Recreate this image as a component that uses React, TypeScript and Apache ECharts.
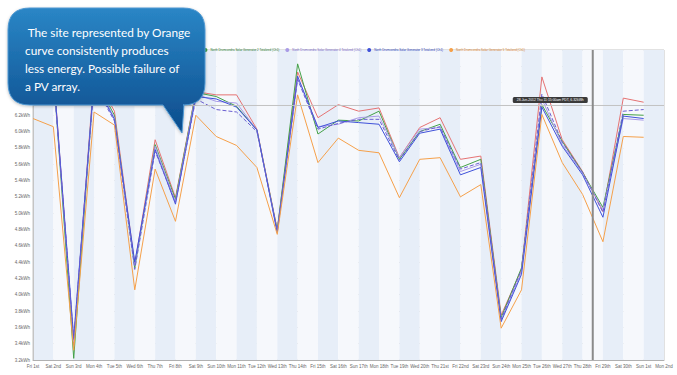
import React, { useEffect, useRef } from 'react';
import * as echarts from 'echarts';

const DAYS = ['Fri 1st', 'Sat 2nd', 'Sun 3rd', 'Mon 4th', 'Tue 5th', 'Wed 6th', 'Thu 7th', 'Fri 8th', 'Sat 9th', 'Sun 10th', 'Mon 11th', 'Tue 12th', 'Wed 13th', 'Thu 14th', 'Fri 15th', 'Sat 16th', 'Sun 17th', 'Mon 18th', 'Tue 19th', 'Wed 20th', 'Thu 21st', 'Fri 22nd', 'Sat 23rd', 'Sun 24th', 'Mon 25th', 'Tue 26th', 'Wed 27th', 'Thu 28th', 'Fri 29th', 'Sat 30th', 'Sun 1st', 'Mon 2nd'];

const GEN1 = [6.74, 6.77, 3.38, 6.70, 6.25, 4.37, 5.90, 5.19, 6.49, 6.45, 6.45, 6.03, 4.80, 6.73, 6.17, 6.33, 6.25, 6.29, 5.68, 6.05, 6.17, 5.66, 5.70, 3.75, 4.31, 6.67, 5.90, 5.51, 5.02, 6.41, 6.36];
const GEN2 = [6.72, 6.74, 3.22, 6.67, 6.20, 4.33, 5.84, 5.17, 6.48, 6.43, 6.31, 6.02, 4.79, 6.83, 5.97, 6.14, 6.13, 6.25, 5.66, 6.00, 6.09, 5.56, 5.66, 3.72, 4.33, 6.33, 5.88, 5.50, 5.07, 6.21, 6.20];
const GEN4 = [6.69, 6.72, 3.42, 6.64, 6.17, 4.36, 5.82, 5.14, 6.46, 6.37, 6.35, 6.02, 4.77, 6.65, 6.06, 6.09, 6.17, 6.19, 5.68, 6.03, 6.05, 5.51, 5.60, 3.69, 4.28, 6.40, 5.84, 5.49, 5.04, 6.16, 6.14];
const GEN3 = [6.67, 6.74, 3.47, 6.62, 6.15, 4.40, 5.78, 5.11, 6.43, 6.40, 6.30, 6.02, 4.76, 6.68, 6.05, 6.13, 6.11, 6.09, 5.63, 5.98, 6.03, 5.47, 5.56, 3.67, 4.25, 6.30, 5.82, 5.47, 4.95, 6.19, 6.16];
const GEN6 = [6.64, 6.69, 3.45, 6.58, 6.13, 4.31, 5.76, 5.13, 6.40, 6.27, 6.24, 6.00, 4.79, 6.64, 6.03, 6.10, 6.15, 6.15, 5.65, 6.00, 6.06, 5.54, 5.62, 3.70, 4.31, 6.46, 5.87, 5.50, 5.01, 6.25, 6.27];
const GEN5 = [6.16, 6.06, 3.32, 6.24, 6.08, 4.06, 5.54, 4.90, 6.20, 5.94, 5.83, 5.56, 4.74, 6.45, 5.62, 5.92, 5.77, 5.74, 5.19, 5.66, 5.68, 5.20, 5.35, 3.59, 4.06, 6.21, 5.62, 5.23, 4.65, 5.94, 5.93];

const SERIES_NAMES = [
  'North Drumcondra Solar Generator 1 Totalized (Ch1)',
  'North Drumcondra Solar Generator 2 Totalized (Ch1)',
  'North Drumcondra Solar Generator 4 Totalized (Ch1)',
  'North Drumcondra Solar Generator 3 Totalized (Ch1)',
  'North Drumcondra Solar Generator 5 Totalized (Ch1)',
  'North Drumcondra Solar Generator 6 Totalized (Ch1)',
];

const Y_MIN = 3.2;
const Y_MAX = 7.0;
const Y_STEP = 0.2;
const Y_LABEL_MAX = 6.2;

const CURSOR_DAYS = ['Thu 28th', 'Fri 29th'];
const CURSOR_VALUE = 6.32;
const CURSOR_TEXT = '28-Jun-2012 Thu 11:15:00am PDT, 6.32kWh';

const NOTE_LINES = [' The site represented by Orange', 'curve consistently produces', 'less energy. Possible failure of', 'a PV array.'];

const BUBBLE_D = 'M30 8 H183 Q205 8 205 30 V83 Q205 105 183 105 L184 105 L182 133 L163 105 H30 Q8 105 8 83 V30 Q8 8 30 8 Z';

export default function App() {
  const ref = useRef<HTMLDivElement>(null);
  useEffect(() => {
    const el = ref.current!;
    const chart = echarts.init(el, null, { renderer: 'svg' });
    try {
      echarts.graphic.registerShape('bubble', echarts.graphic.extendPath(BUBBLE_D, {}) as any);
    } catch (e) {}

    const colors = ['#e57373', '#43a047', '#a99be6', '#3f51d9', '#f5a04a', '#6a5fd0'];
    const datas = [GEN1, GEN2, GEN4, GEN3, GEN5, GEN6];
    const textColors = ['#c0392b', '#2e7d32', '#7b68c8', '#2c3eb8', '#d9822b'];

    chart.setOption({
      animation: false,
      backgroundColor: '#ffffff',
      grid: { left: 33, right: 13, top: 50, bottom: 15, show: true, borderColor: '#c4c4c4', borderWidth: 1, backgroundColor: 'transparent' },
      legend: {
        top: 43,
        right: 147,
        icon: 'circle',
        itemWidth: 4,
        itemHeight: 4,
        itemGap: 6,
        textStyle: { fontSize: 2.95, fontFamily: 'Liberation Sans', padding: [0, 0, 0, -2] },
        data: SERIES_NAMES.slice(0, 5).map((n, i) => ({ name: n, textStyle: { color: textColors[i] } })),
      },
      xAxis: {
        type: 'category',
        data: DAYS,
        boundaryGap: false,
        axisLine: { show: true, lineStyle: { color: '#b0b0b0' } },
        axisTick: { show: false },
        axisLabel: { interval: 0, fontSize: 4.5, color: '#666', margin: 4, fontFamily: 'Liberation Sans' },
        splitLine: { show: false },
        splitArea: { show: true, areaStyle: { color: ['#e7eef8', '#f6f8fc'] } },
      },
      yAxis: {
        type: 'value',
        min: Y_MIN,
        max: Y_MAX,
        interval: Y_STEP,
        axisLine: { show: true, lineStyle: { color: '#c4c4c4' } },
        axisTick: { show: false },
        axisLabel: {
          fontSize: 4.5, color: '#666', margin: 3, fontFamily: 'Liberation Sans',
          formatter: (v: number) => (v > Y_LABEL_MAX + 0.01 ? '' : v.toFixed(1) + 'kWh'),
        },
        splitLine: { show: true, lineStyle: { color: '#cfcfcf', type: 'dashed', width: 1 } },
      },
      series: datas.map((d, i) => ({
        name: SERIES_NAMES[i],
        type: 'line',
        data: d,
        showSymbol: false,
        symbol: 'circle',
        color: colors[i],
        lineStyle: { width: 1, color: colors[i], type: i === 5 ? 'dashed' : 'solid' },
        z: i === 4 ? 3 : 2,
      })),
    });

    const p1 = chart.convertToPixel({ gridIndex: 0 }, [CURSOR_DAYS[0], CURSOR_VALUE]) as number[];
    const p2 = chart.convertToPixel({ gridIndex: 0 }, [CURSOR_DAYS[1], CURSOR_VALUE]) as number[];
    const top = chart.convertToPixel({ yAxisIndex: 0 }, Y_MAX) as number;
    const bot = chart.convertToPixel({ yAxisIndex: 0 }, Y_MIN) as number;
    const left = chart.convertToPixel({ xAxisIndex: 0 }, DAYS[0]) as number;
    const right = chart.convertToPixel({ xAxisIndex: 0 }, DAYS[DAYS.length - 1]) as number;
    const cx = (p1[0] + p2[0]) / 2;
    const cy = p1[1];

    chart.setOption({
      graphic: [
        { type: 'line', id: 'hline', z: 50, shape: { x1: left, y1: cy, x2: right, y2: cy }, style: { stroke: '#c2c2c2', lineWidth: 1 } },
        { type: 'line', id: 'vline', z: 50, shape: { x1: cx, y1: top, x2: cx, y2: bot }, style: { stroke: '#8a8a8a', lineWidth: 2 } },
        { type: 'rect', id: 'tipbox', z: 51, shape: { x: cx - 80, y: cy - 8.5, width: 75, height: 6, r: 1.5 }, style: { fill: '#3a3a3a' } },
        { type: 'text', id: 'tiptext', z: 52, x: cx - 42.5, y: cy - 5.5, style: { text: CURSOR_TEXT, fill: '#ffffff', fontSize: 3.4, fontFamily: 'Liberation Sans', align: 'center', verticalAlign: 'middle' } },
        {
          type: 'bubble', id: 'bubble', z: 100, x: 0, y: 0,
          style: {
            fill: new echarts.graphic.LinearGradient(0, 0, 0, 1, [
              { offset: 0, color: '#2a86c6' },
              { offset: 1, color: '#0c4c8c' },
            ]),
            stroke: '#4f98d2', lineWidth: 1,
            shadowBlur: 3, shadowColor: 'rgba(0,0,0,0.25)', shadowOffsetY: 1,
          },
        },
        ...NOTE_LINES.map((t, i) => ({
          type: 'text', id: 'note' + i, z: 101, x: 25, y: 32 + i * 18.3,
          style: { text: t, fill: '#ffffff', fontSize: 11.8, fontFamily: 'Lato', verticalAlign: 'middle' },
        })),
      ],
    });

    return () => chart.dispose();
  }, []);
  return <div ref={ref} style={{ position: 'fixed', left: 0, top: 0, width: 677, height: 375 }} />;
}
